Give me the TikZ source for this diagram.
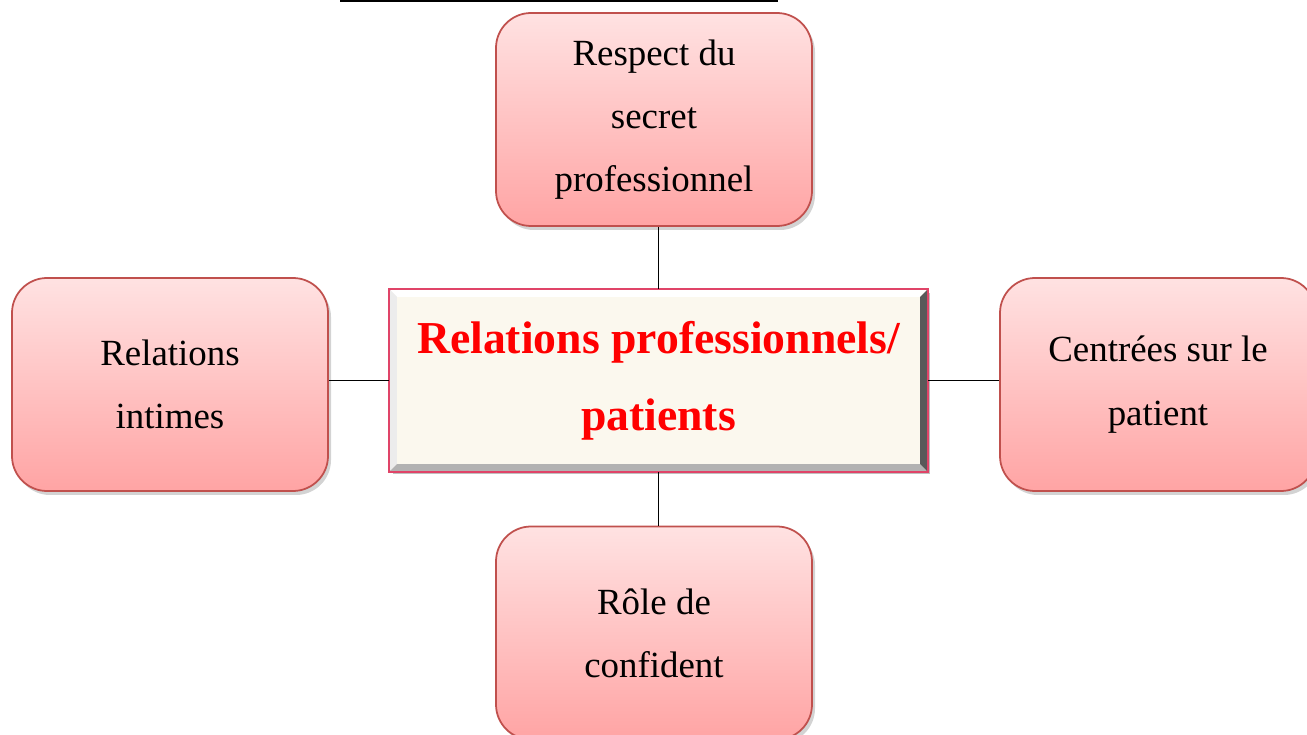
\documentclass[tikz,border=0pt]{standalone}
\usepackage{fontspec}
\setmainfont{Liberation Serif}
\usepackage{tikz}
\usetikzlibrary{positioning,shapes,shadows,calc}
\definecolor{boxtop}{HTML}{FFE2E2}
\definecolor{boxbot}{HTML}{FFA4A4}
\definecolor{boxline}{HTML}{C0504D}
\definecolor{cream}{HTML}{FBF8EE}
\definecolor{crimson}{HTML}{E04468}

\begin{document}
\begin{tikzpicture}[
      topic/.style={rectangle, draw=boxline, line width=1pt, rounded corners=0.7cm, top color=boxtop, bottom color=boxbot, align=center, minimum width=6.32cm, minimum height=4.26cm, font=\fontsize{21}{36}\selectfont, drop shadow={shadow xshift=0.06cm, shadow yshift=-0.08cm, opacity=0.35}},
      mainbox/.style={rectangle, draw=crimson, line width=1.2pt, fill=cream, align=center, minimum width=10.74cm, minimum height=3.62cm, text=red, font=\fontsize{26}{44}\selectfont\bfseries, drop shadow={shadow xshift=0.06cm, shadow yshift=-0.06cm, opacity=0.5}},
      link/.style={draw=black, line width=0.8pt}
      ]
      \useasboundingbox (0,0) rectangle (26.14,-14.7);
      \coordinate (RULEL) at (6.8,-0.02);
      \coordinate (RULER) at (15.56,-0.02);
      \draw[line width=1.6pt] (RULEL) -- (RULER);
      \node[mainbox] (MAIN) at (13.17,-7.61) {Relations professionnels/\\patients};
      \fill[white] (MAIN.north west) -- (MAIN.north east) -- ([shift={(-0.16,-0.16)}]MAIN.north east) -- ([shift={(0.16,-0.16)}]MAIN.north west) -- cycle;
      \fill[gray!15] (MAIN.north west) -- ([shift={(0.16,-0.16)}]MAIN.north west) -- ([shift={(0.16,0.16)}]MAIN.south west) -- (MAIN.south west) -- cycle;
      \fill[gray!60] (MAIN.south west) -- ([shift={(0.16,0.16)}]MAIN.south west) -- ([shift={(-0.16,0.16)}]MAIN.south east) -- (MAIN.south east) -- cycle;
      \fill[gray!70!black] (MAIN.south east) -- ([shift={(-0.16,0.16)}]MAIN.south east) -- ([shift={(-0.16,-0.16)}]MAIN.north east) -- (MAIN.north east) -- cycle;
      \draw[crimson, line width=1.2pt] (MAIN.north west) rectangle (MAIN.south east);
      \node[topic] (SECRET) at (13.08,-2.39) {Respect du\\secret\\professionnel};
      \node[topic] (INTIME) at (3.40,-7.69) {Relations\\intimes};
      \node[topic] (PATIENT) at (23.16,-7.69) {Centrées sur le\\patient};
      \node[topic] (CONF) at (13.08,-12.66) {Rôle de\\confident};
      \draw[link] (SECRET.south -| MAIN.north) -- (MAIN.north);
      \draw[link] (MAIN.south) -- (CONF.north -| MAIN.south);
      \draw[link] (INTIME.east |- MAIN.west) -- (MAIN.west);
      \draw[link] (MAIN.east) -- (PATIENT.west |- MAIN.east);
    \end{tikzpicture}
\end{document}
